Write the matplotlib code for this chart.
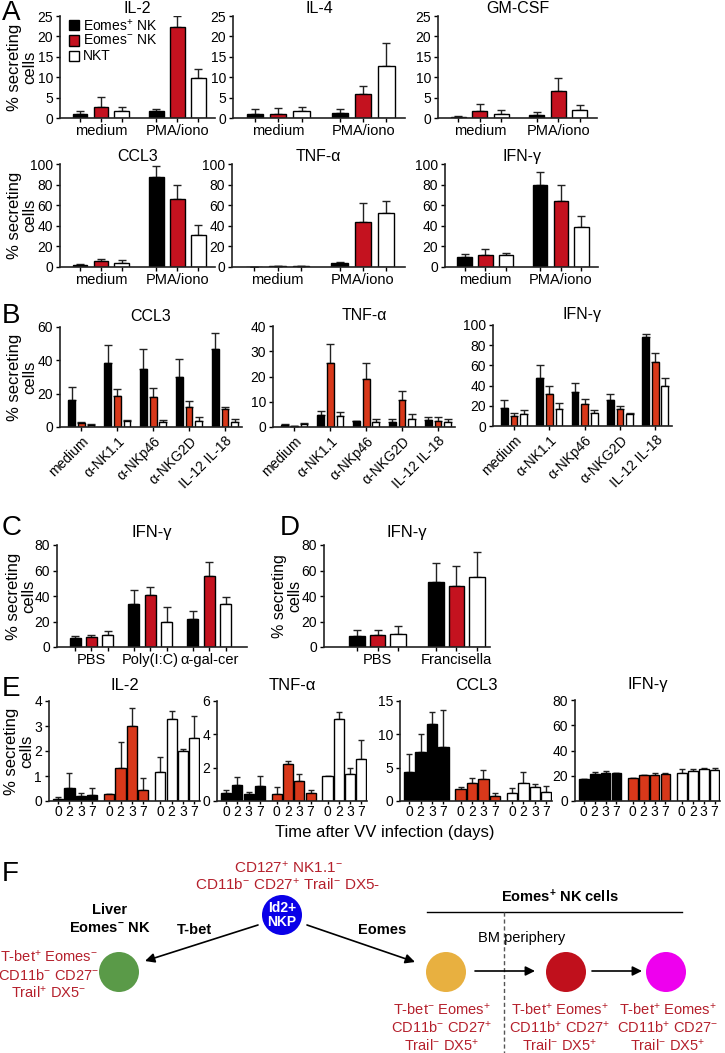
import numpy as np
import matplotlib
matplotlib.use("Agg")
import matplotlib.pyplot as plt
from matplotlib.patches import Circle
from matplotlib.transforms import blended_transform_factory

plt.rcParams['font.family'] = ['Liberation Sans', 'DejaVu Sans']
plt.rcParams['mathtext.fontset'] = 'custom'
plt.rcParams['mathtext.rm'] = 'Liberation Sans'
plt.rcParams['mathtext.it'] = 'Liberation Sans:italic'
plt.rcParams['mathtext.bf'] = 'Liberation Sans:bold'

# ---------------- data ----------------
cells = ['Eomes$^{+}$ NK', 'Eomes$^{-}$ NK', 'NKT']

# A : rows = Eomes+ NK, Eomes- NK, NKT ; cols = medium, PMA/iono
a_groups = ['medium', 'PMA/iono']
a_il2 = [[0.9, 1.7], [2.6, 22.3], [1.7, 9.8]]
a_il2_sem = [[0.9, 0.5], [2.6, 2.7], [1.1, 2.1]]
a_il4 = [[0.9, 1.3], [1.0, 5.9], [1.6, 12.7]]
a_il4_sem = [[1.4, 0.8], [1.4, 1.9], [1.2, 5.8]]
a_gmcsf = [[0.3, 0.7], [1.7, 6.6], [1.1, 2.0]]
a_gmcsf_sem = [[0.2, 0.7], [1.7, 3.3], [0.8, 1.1]]
a_ccl3 = [[1.6, 87], [5.5, 66], [4.0, 31]]
a_ccl3_sem = [[0.9, 11], [2.0, 14], [2.5, 10]]
a_tnf = [[0.2, 3.5], [0.5, 44], [0.8, 52]]
a_tnf_sem = [[0.1, 1.0], [0.3, 18], [0.3, 12]]
a_ifn = [[9.8, 80], [11.8, 64], [11.5, 39]]
a_ifn_sem = [[3.2, 12], [5.2, 15.7], [2.5, 11]]

# B
b_groups = ['medium', 'α-NK1.1', 'α-NKp46', 'α-NKG2D', 'IL-12 IL-18']
b_ccl3 = [[16.3, 38.2, 34.6, 30.2, 47.0], [2.2, 18.7, 17.9, 12.3, 10.7], [1.4, 3.6, 3.0, 3.6, 3.2]]
b_ccl3_sem = [[7.6, 11.1, 12.4, 10.6, 9.7], [0.8, 4.0, 5.4, 3.6, 1.3], [0.3, 0.4, 1.0, 2.4, 1.6]]
b_tnf = [[0.9, 4.6, 2.2, 2.0, 2.8], [0.3, 25.2, 19.2, 10.6, 2.5], [1.3, 4.2, 2.0, 3.0, 2.0]]
b_tnf_sem = [[0.2, 1.8, 0.3, 1.1, 1.2], [0.1, 7.8, 6.0, 3.7, 1.6], [0.3, 1.8, 1.0, 2.3, 1.3]]
b_ifn = [[18.2, 48, 34, 26, 88], [10.3, 32, 21.5, 16.5, 63], [11.6, 17, 13, 12.3, 39.5]]
b_ifn_sem = [[7.8, 12, 9, 6, 3.5], [2.7, 8, 5, 3.5, 9], [4.4, 6, 3, 0.5, 8.2]]

# C
c_groups = ['PBS', 'Poly(I:C)', 'α-gal-cer']
c_ifn = [[7.0, 34, 22], [7.6, 40.7, 56], [9.7, 20, 33.6]]
c_ifn_sem = [[1.4, 10.4, 6], [2.1, 6, 11], [2.6, 11, 5.8]]

# D
d_groups = ['PBS', 'Francisella']
d_ifn = [[8.7, 50.6], [9.2, 47.8], [10.5, 54.6]]
d_ifn_sem = [[4.3, 15], [4.4, 15.7], [5.8, 20.2]]

# E : rows = cell type, cols = day
e_days = ['0', '2', '3', '7']
e_il2 = [[0.1, 0.53, 0.21, 0.24], [0.27, 1.32, 2.99, 0.44], [1.17, 3.27, 2.02, 2.52]]
e_il2_sem = [[0.07, 0.6, 0.12, 0.29], [0, 1.05, 0.73, 0.49], [0.6, 0.33, 0.08, 0.88]]
e_tnf = [[0.5, 0.95, 0.4, 0.91], [0.44, 2.24, 1.21, 0.46], [1.49, 4.95, 1.64, 2.53]]
e_tnf_sem = [[0.19, 0.5, 0.13, 0.58], [0.41, 0.16, 0.39, 0.19], [0, 0.4, 0.34, 1.13]]
e_ccl3 = [[4.3, 7.4, 11.6, 8.1], [1.74, 2.64, 3.24, 0.8], [1.25, 2.64, 2.14, 1.3]]
e_ccl3_sem = [[2.7, 2.6, 1.8, 5.6], [0.3, 0.76, 1.39, 0.35], [0.65, 1.69, 0.4, 0.94]]
e_ifn = [[17.2, 21, 22, 22], [18, 20.5, 20.5, 21.5], [22, 24, 25, 24.5]]
e_ifn_sem = [[0, 2, 1.5, 0.5], [0.5, 0.3, 1.5, 0.5], [3, 1, 1, 1.5]]

crimson = '#c4121f'
orange_red = '#d8381a'
txt_red = '#b5202c'

W, H = 725, 1053
fig = plt.figure(figsize=(W / 100, H / 100), dpi=100)


def px_axes(l, t, r, b):
    return fig.add_axes([l / W, 1 - b / H, (r - l) / W, (b - t) / H])


def ylabel_at(ax, x_px, size=12):
    ax.set_ylabel('% secreting\ncells', fontsize=size, linespacing=1.0)
    ax.yaxis.set_label_coords(x_px / W, 0.5, transform=blended_transform_factory(fig.transFigure, ax.transAxes))


def style(ax, ylim, yticks, title, tpad, tsize=11.5):
    ax.spines['top'].set_visible(False)
    ax.spines['right'].set_visible(False)
    for s in ['left', 'bottom']:
        ax.spines[s].set_linewidth(1.2)
        ax.spines[s].set_color('#222222')
    ax.set_ylim(*ylim)
    ax.set_yticks(yticks)
    ax.tick_params(direction='out', length=3, width=1, labelsize=10, pad=2)
    ax.set_title(title, fontsize=tsize, pad=tpad)


def grouped(ax, groups, mean, sem, colors, gap, width, lpad, rpad, rot=False, label_size=10.5):
    n = len(mean)
    allx = []
    for i in range(n):
        x = np.arange(len(groups)) * gap + i
        ax.bar(x, mean[i], width, color=colors[i], edgecolor='black', linewidth=1, zorder=2)
        ax.errorbar(x, mean[i], yerr=[np.zeros(len(groups)), sem[i]], fmt='none',
                    ecolor='#222222', elinewidth=1, capsize=3, capthick=1, zorder=1)
        allx.append(x)
    last = (len(groups) - 1) * gap + n - 1
    ax.set_xlim(-lpad, last + rpad)
    centers = np.arange(len(groups)) * gap + (n - 1) / 2
    if rot:
        ax.set_xticks(centers)
        ax.set_xticklabels(groups, rotation=45, ha='right', rotation_mode='anchor', fontsize=label_size)
    else:
        ticks = np.sort(np.concatenate(allx))
        ax.set_xticks(ticks)
        ax.set_xticklabels([''] * len(ticks))
        for c, g in zip(centers, groups):
            ax.text(c, -0.06, g, transform=ax.get_xaxis_transform(), ha='center', va='top',
                    fontsize=label_size)


cols_a = ['black', crimson, 'white']
cols_b = ['black', orange_red, 'white']

# ---------- panel A ----------
a_panels = [
    ((60, 16, 215, 118), a_il2, a_il2_sem, 'IL-2', (0, 25), range(0, 26, 5)),
    ((233, 16, 405, 118), a_il4, a_il4_sem, 'IL-4', (0, 25), range(0, 26, 5)),
    ((438, 16, 597, 118), a_gmcsf, a_gmcsf_sem, 'GM-CSF', (0, 25), range(0, 26, 5)),
    ((60, 164, 215, 267), a_ccl3, a_ccl3_sem, 'CCL3', (0, 100), range(0, 101, 20)),
    ((232, 164, 405, 267), a_tnf, a_tnf_sem, 'TNF-α', (0, 100), range(0, 101, 20)),
    ((445, 164, 598, 267), a_ifn, a_ifn_sem, 'IFN-γ', (0, 100), range(0, 101, 20)),
]
for k, (box, m, s, t, yl, yt) in enumerate(a_panels):
    ax = px_axes(*box)
    grouped(ax, a_groups, m, s, cols_a, 3.65, 0.7, 0.95, 0.8)
    style(ax, yl, list(yt), t, 2)
    if k in (0, 3):
        ylabel_at(ax, 37)
    if k == 0:
        for i, lab in enumerate(cells):
            ax.add_patch(plt.Rectangle((0.06, 0.86 - i * 0.15), 0.065, 0.1, transform=ax.transAxes,
                                       facecolor=cols_a[i], edgecolor='black', lw=1, clip_on=False))
            ax.text(0.15, 0.91 - i * 0.15, lab, transform=ax.transAxes, va='center', fontsize=10)

# ---------- panel B ----------
b_panels = [
    ((60, 327, 242, 427), b_ccl3, b_ccl3_sem, 'CCL3', (0, 60), range(0, 61, 20)),
    ((273, 326, 455, 427), b_tnf, b_tnf_sem, 'TNF-α', (0, 40), range(0, 41, 10)),
    ((493, 325, 672, 426), b_ifn, b_ifn_sem, 'IFN-γ', (0, 100), range(0, 101, 20)),
]
for k, (box, m, s, t, yl, yt) in enumerate(b_panels):
    ax = px_axes(*box)
    grouped(ax, b_groups, m, s, cols_b, 3.7, 0.7, 1.2, 0.75, rot=True, label_size=12)
    style(ax, yl, list(yt), t, 4)
    if k == 0:
        ylabel_at(ax, 37)

# ---------- panel C / D ----------
ax = px_axes(57, 545, 247, 647)
grouped(ax, c_groups, c_ifn, c_ifn_sem, cols_a, 3.6, 0.67, 1.1, 1.3)
style(ax, (0, 80), [0, 20, 40, 60, 80], 'IFN-γ', 6, 12)
ylabel_at(ax, 36)

ax = px_axes(324, 545, 490, 647)
grouped(ax, d_groups, d_ifn, d_ifn_sem, cols_a, 3.83, 0.75, 1.6, 0.63)
style(ax, (0, 80), [0, 20, 40, 60, 80], 'IFN-γ', 6, 12)
ylabel_at(ax, 302, size=11.5)

# ---------- panel E ----------
e_panels = [
    ((49, 701, 200, 801), e_il2, e_il2_sem, 'IL-2', (0, 4), [0, 1, 2, 3, 4]),
    ((217, 701, 367, 801), e_tnf, e_tnf_sem, 'TNF-α', (0, 6), [0, 2, 4, 6]),
    ((400, 701, 552, 801), e_ccl3, e_ccl3_sem, 'CCL3', (0, 15), [0, 5, 10, 15]),
    ((575, 700, 720, 801), e_ifn, e_ifn_sem, 'IFN-γ', (0, 80), [0, 20, 40, 60, 80]),
]
for k, (box, m, s, t, yl, yt) in enumerate(e_panels):
    ax = px_axes(*box)
    ticks, labs = [], []
    for i in range(3):
        x = i * 4.5 + np.arange(4)
        ax.bar(x, m[i], 0.9, color=cols_b[i], edgecolor='black', linewidth=1, zorder=2)
        ax.errorbar(x, m[i], yerr=[np.zeros(4), s[i]], fmt='none', ecolor='#222222',
                    elinewidth=1, capsize=2, capthick=1, zorder=1)
        ticks += list(x)
        labs += e_days
    ax.set_xlim(-0.8, 12.5)
    ax.set_xticks(ticks)
    ax.set_xticklabels(labs, fontsize=10)
    style(ax, yl, yt, t, 8, 12)
    ax.tick_params(axis='x', length=2, pad=1)
    if k == 0:
        ylabel_at(ax, 34)
fig.text(385 / W, 1 - 833 / H, 'Time after VV infection (days)', ha='center', va='center', fontsize=12)

# ---------- panel letters ----------
for lab, x, y in [('A', 2, 13), ('B', 2, 316), ('C', 2, 528), ('D', 280, 528), ('E', 2, 689), ('F', 2, 874)]:
    fig.text(x / W, 1 - y / H, lab, fontsize=20, va='center', ha='left')

# ---------- panel F (schematic in pixel coords) ----------
axf = fig.add_axes([0, 0, 1, (H - 850) / H])
axf.set_xlim(0, W)
axf.set_ylim(H, 850)
axf.axis('off')

nodes = [(282, 915, '#0a00e8'), (119, 972, '#5a9a48'), (446, 972, '#e8b040'),
         (566, 972, '#c0101c'), (666, 972, '#ee00ee')]
for x, y, c in nodes:
    axf.add_patch(Circle((x, y), 20, facecolor=c, edgecolor='none'))
axf.text(282, 915, 'Id2+\nNKP', color='white', fontweight='bold', ha='center', va='center',
         fontsize=10, linespacing=0.95)

arr = dict(arrowstyle='-|>', color='black', lw=1.2, mutation_scale=14, shrinkA=0, shrinkB=0)
for (x0, y0), (x1, y1) in [((258, 925), (145, 961)), ((307, 925), (415, 962)),
                           ((475, 971), (535, 971)), ((592, 971), (642, 971))]:
    axf.annotate('', xy=(x1, y1), xytext=(x0, y0), arrowprops=arr)

axf.text(288, 868, 'CD127$^{+}$ NK1.1$^{-}$', color=txt_red, ha='center', va='center', fontsize=11)
axf.text(288, 885, 'CD11b$^{-}$ CD27$^{+}$ Trail$^{-}$ DX5-', color=txt_red, ha='center', va='center', fontsize=11)

axf.text(110, 910, 'Liver', fontweight='bold', ha='center', va='center', fontsize=10.5)
axf.text(110, 928, r'Eomes$^{\mathbf{-}}$ NK', fontweight='bold', ha='center', va='center', fontsize=10.5)
axf.text(194, 930, 'T-bet', fontweight='bold', ha='center', va='center', fontsize=10.5)
axf.text(382, 930, 'Eomes', fontweight='bold', ha='center', va='center', fontsize=10.5)
axf.text(560, 897, r'Eomes$^{\mathbf{+}}$ NK cells', fontweight='bold', ha='center', va='center', fontsize=10.5)
axf.plot([427, 682], [912, 912], color='black', lw=1)
axf.plot([504, 504], [912, 1053], color='#555555', lw=1, ls=(0, (3, 2)))
axf.text(522, 938, 'BM periphery', ha='center', va='center', fontsize=10.5)

left_lab = ['T-bet$^{+}$ Eomes$^{-}$', 'CD11b$^{-}$ CD27$^{-}$', 'Trail$^{+}$ DX5$^{-}$']
for i, s in enumerate(left_lab):
    axf.text(49, 957 + i * 18, s, color=txt_red, ha='center', va='center', fontsize=10.5)

stage_labs = [
    ['T-bet$^{-}$ Eomes$^{+}$', 'CD11b$^{-}$ CD27$^{+}$', 'Trail$^{-}$ DX5$^{+}$'],
    ['T-bet$^{+}$ Eomes$^{+}$', 'CD11b$^{+}$ CD27$^{+}$', 'Trail$^{-}$ DX5$^{+}$'],
    ['T-bet$^{+}$ Eomes$^{+}$', 'CD11b$^{+}$ CD27$^{-}$', 'Trail$^{-}$ DX5$^{+}$'],
]
for cx, labs in zip([442, 560, 668], stage_labs):
    for i, s in enumerate(labs):
        axf.text(cx, 1010 + i * 18, s, color=txt_red, ha='center', va='center', fontsize=10.5)

fig.savefig('out.png', dpi=100)
